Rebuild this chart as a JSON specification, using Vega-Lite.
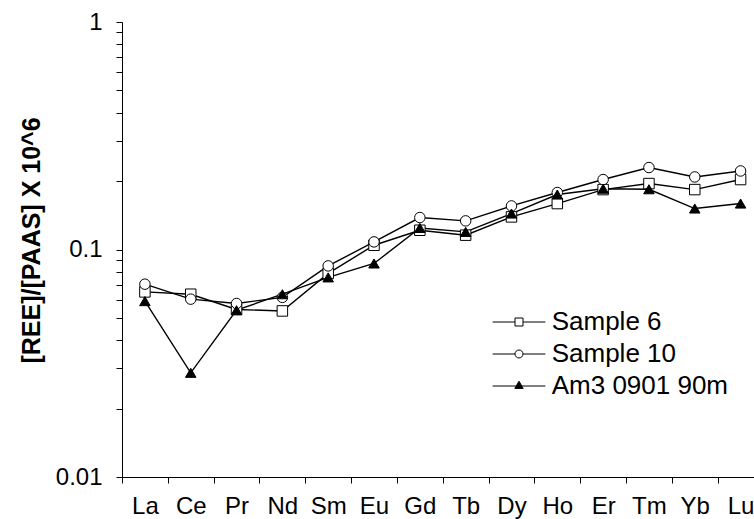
{
  "$schema": "https://vega.github.io/schema/vega-lite/v6.json",
  "width": 632,
  "height": 455,
  "autosize": "none",
  "padding": {"left": 122, "top": 22, "right": 0, "bottom": 42},
  "background": "white",
  "config": {"view": {"stroke": null}, "font": "Liberation Sans"},
  "data": {"values": [
    {"element": "La", "series": "Sample 6", "value": 0.0651},
    {"element": "Ce", "series": "Sample 6", "value": 0.0636},
    {"element": "Pr", "series": "Sample 6", "value": 0.0545},
    {"element": "Nd", "series": "Sample 6", "value": 0.0537},
    {"element": "Sm", "series": "Sample 6", "value": 0.0785},
    {"element": "Eu", "series": "Sample 6", "value": 0.1044},
    {"element": "Gd", "series": "Sample 6", "value": 0.1215},
    {"element": "Tb", "series": "Sample 6", "value": 0.1156},
    {"element": "Dy", "series": "Sample 6", "value": 0.1391},
    {"element": "Ho", "series": "Sample 6", "value": 0.1592},
    {"element": "Er", "series": "Sample 6", "value": 0.1834},
    {"element": "Tm", "series": "Sample 6", "value": 0.1949},
    {"element": "Yb", "series": "Sample 6", "value": 0.1834},
    {"element": "Lu", "series": "Sample 6", "value": 0.2030},
    {"element": "La", "series": "Sample 10", "value": 0.0704},
    {"element": "Ce", "series": "Sample 10", "value": 0.0605},
    {"element": "Pr", "series": "Sample 10", "value": 0.0579},
    {"element": "Nd", "series": "Sample 10", "value": 0.0616},
    {"element": "Sm", "series": "Sample 10", "value": 0.0847},
    {"element": "Eu", "series": "Sample 10", "value": 0.1080},
    {"element": "Gd", "series": "Sample 10", "value": 0.1382},
    {"element": "Tb", "series": "Sample 10", "value": 0.1336},
    {"element": "Dy", "series": "Sample 10", "value": 0.1554},
    {"element": "Ho", "series": "Sample 10", "value": 0.1780},
    {"element": "Er", "series": "Sample 10", "value": 0.2030},
    {"element": "Tm", "series": "Sample 10", "value": 0.2292},
    {"element": "Yb", "series": "Sample 10", "value": 0.2084},
    {"element": "Lu", "series": "Sample 10", "value": 0.2214},
    {"element": "La", "series": "Am3 0901 90m", "value": 0.0593},
    {"element": "Ce", "series": "Am3 0901 90m", "value": 0.0287},
    {"element": "Pr", "series": "Am3 0901 90m", "value": 0.0541},
    {"element": "Nd", "series": "Am3 0901 90m", "value": 0.0636},
    {"element": "Sm", "series": "Am3 0901 90m", "value": 0.0754},
    {"element": "Eu", "series": "Am3 0901 90m", "value": 0.0868},
    {"element": "Gd", "series": "Am3 0901 90m", "value": 0.1244},
    {"element": "Tb", "series": "Am3 0901 90m", "value": 0.1195},
    {"element": "Dy", "series": "Am3 0901 90m", "value": 0.1439},
    {"element": "Ho", "series": "Am3 0901 90m", "value": 0.1744},
    {"element": "Er", "series": "Am3 0901 90m", "value": 0.1850},
    {"element": "Tm", "series": "Am3 0901 90m", "value": 0.1840},
    {"element": "Yb", "series": "Am3 0901 90m", "value": 0.1514},
    {"element": "Lu", "series": "Am3 0901 90m", "value": 0.1592}
  ]},
  "encoding": {
    "x": {
      "field": "element", "type": "nominal",
      "sort": ["La", "Ce", "Pr", "Nd", "Sm", "Eu", "Gd", "Tb", "Dy", "Ho", "Er", "Tm", "Yb", "Lu"],
      "scale": {"type": "band", "paddingInner": 0, "paddingOuter": 0, "range": [0, 641.5]},
      "axis": {"title": null, "tickBand": "extent", "labelFontSize": 24, "labelColor": "black", "labelAngle": 0, "tickSize": 6, "labelPadding": 11, "tickColor": "black", "domainColor": "black", "grid": false}
    },
    "y": {
      "field": "value", "type": "quantitative",
      "scale": {"type": "log", "domain": [0.01, 1], "nice": false},
      "axis": {
        "title": "[REE]/[PAAS] X 10^6", "titleFontSize": 25, "titleFontWeight": "bold", "titleColor": "black",
        "titleX": -91, "titleY": 218, "titleAngle": -90, "titleAlign": "center", "titleBaseline": "middle",
        "values": [0.01, 0.02, 0.03, 0.04, 0.05, 0.06, 0.07, 0.08, 0.09, 0.1, 0.2, 0.3, 0.4, 0.5, 0.6, 0.7, 0.8, 0.9, 1],
        "labelExpr": "datum.value == 0.01 ? '0.01' : datum.value == 0.1 ? '0.1' : datum.value == 1 ? '1' : ''",
        "labelFontSize": 24, "labelColor": "black", "labelPadding": 14, "tickSize": 6, "tickColor": "black", "domainColor": "black",
        "grid": false, "labelOverlap": false, "labelFlush": false
      }
    }
  },
  "layer": [
    {
      "mark": {"type": "line", "color": "black", "strokeWidth": 1.4},
      "encoding": {"detail": {"field": "series", "type": "nominal"}}
    },
    {
      "mark": {"type": "point", "size": 110, "stroke": "black", "strokeWidth": 1, "opacity": 1, "fillOpacity": 1},
      "encoding": {
        "shape": {
          "field": "series", "type": "nominal",
          "scale": {"domain": ["Sample 6", "Sample 10", "Am3 0901 90m"], "range": ["square", "circle", "triangle-up"]},
          "legend": null
        },
        "fill": {
          "field": "series", "type": "nominal",
          "scale": {"domain": ["Sample 6", "Sample 10", "Am3 0901 90m"], "range": ["white", "white", "black"]},
          "legend": null
        }
      }
    },
    {
      "transform": [{"filter": "false"}],
      "mark": {"type": "point", "size": 64, "strokeWidth": 1, "opacity": 1, "fillOpacity": 1},
      "encoding": {
        "shape": {
          "field": "series", "type": "nominal",
          "scale": {"domain": ["Sample 6", "Sample 10", "Am3 0901 90m"], "range": [
            "M-6.6,0L-1,0M1,0L6.6,0M-1,-1L1,-1L1,1L-1,1Z",
            "M-6.6,0L-1,0M1,0L6.6,0M1,0A1,1,0,1,1,-1,0A1,1,0,1,1,1,0Z",
            "M-6.6,0L6.6,0M0,-1.2L-1.05,0.6L1.05,0.6Z"
          ]},
          "legend": {
            "orient": "none", "legendX": 384, "legendY": 287, "title": null, "padding": 0,
            "labelFontSize": 26, "labelFont": "Liberation Sans", "labelColor": "black", "labelOffset": 19.7, "labelLimit": 400,
            "symbolSize": 64, "symbolStrokeWidth": 1, "rowPadding": 6
          }
        },
        "fill": {
          "field": "series", "type": "nominal",
          "scale": {"domain": ["Sample 6", "Sample 10", "Am3 0901 90m"], "range": ["white", "white", "black"]},
          "legend": {"orient": "none", "legendX": 384, "legendY": 287, "title": null}
        },
        "stroke": {
          "field": "series", "type": "nominal",
          "scale": {"domain": ["Sample 6", "Sample 10", "Am3 0901 90m"], "range": ["black", "black", "black"]},
          "legend": {"orient": "none", "legendX": 384, "legendY": 287, "title": null}
        }
      }
    }
  ],
  "resolve": {
    "scale": {"shape": "independent", "fill": "independent", "stroke": "independent"},
    "legend": {"shape": "independent", "fill": "independent", "stroke": "independent"}
  }
}
